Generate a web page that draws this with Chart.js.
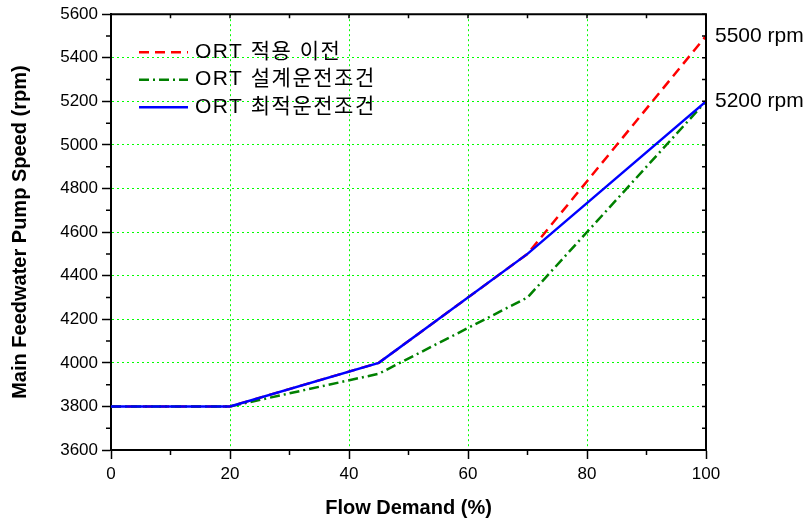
<!DOCTYPE html>
<html>
<head>
<meta charset="utf-8">
<script src="https://cdn.jsdelivr.net/npm/chart.js@4.4.1/dist/chart.umd.min.js"></script>
<style>
  body { margin: 0; background: #fff; }
  #wrap { width: 812px; height: 522px; }
</style>
</head>
<body>
<div id="wrap"><canvas id="pumpChart" width="812" height="522"></canvas></div>
<script>
// data
const flowDemand = [0, 20, 45, 70, 100];
const speedBefore = [3800, 3800, 4000, 4500, 5500];
const speedDesign = [3800, 3800, 3950, 4300, 5200];
const speedOptimal = [3800, 3800, 4000, 4500, 5200];
const seriesLabels = ['ORT 적용 이전', 'ORT 설계운전조건', 'ORT 최적운전조건'];
const xTicks = [0, 20, 40, 60, 80, 100];
const yTicks = [3600, 3800, 4000, 4200, 4400, 4600, 4800, 5000, 5200, 5400, 5600];
const xMinor = [10, 30, 50, 70, 90];
const yMinor = [3700, 3900, 4100, 4300, 4500, 4700, 4900, 5100, 5300, 5500];

const LATIN = '"Liberation Sans", Arial, "Noto Sans CJK KR", sans-serif';
Chart.defaults.font.family = LATIN;
Chart.defaults.color = '#000';

function toPoints(ys) {
  return flowDemand.map((x, i) => ({ x: x, y: ys[i] }));
}

const series = [
  { label: seriesLabels[0], data: speedBefore, color: '#ff0000', dash: [10, 6], order: 2 },
  { label: seriesLabels[1], data: speedDesign, color: '#008000', dash: [10, 4, 2, 4], order: 1 },
  { label: seriesLabels[2], data: speedOptimal, color: '#0000ff', dash: [], order: 0 }
];

// box, minor ticks, legend and end labels
const extras = {
  id: 'extras',
  afterDraw(chart) {
    const { ctx, chartArea: a, scales } = chart;
    const xs = scales.x, ys = scales.y;
    ctx.save();
    ctx.strokeStyle = '#000';
    ctx.lineWidth = 2;
    ctx.beginPath();
    ctx.moveTo(a.left, a.top); ctx.lineTo(a.right, a.top); ctx.lineTo(a.right, a.bottom);
    ctx.stroke();

    ctx.lineWidth = 1.5;
    ctx.beginPath();
    xMinor.forEach(v => {
      const px = xs.getPixelForValue(v);
      ctx.moveTo(px, a.bottom); ctx.lineTo(px, a.bottom + 5);
    });
    yMinor.forEach(v => {
      const py = ys.getPixelForValue(v);
      ctx.moveTo(a.left, py); ctx.lineTo(a.left - 5, py);
    });
    xMinor.concat(xTicks).forEach(v => {
      const px = xs.getPixelForValue(v);
      ctx.moveTo(px, a.top); ctx.lineTo(px, a.top + 4);
    });
    yMinor.concat(yTicks).forEach(v => {
      const py = ys.getPixelForValue(v);
      ctx.moveTo(a.right, py); ctx.lineTo(a.right - 4, py);
    });
    ctx.stroke();

    // legend
    ctx.textBaseline = 'middle';
    ctx.textAlign = 'left';
    ctx.font = '21px ' + LATIN;
    series.forEach((s, i) => {
      const y = a.top + 38 + i * 27.5;
      ctx.strokeStyle = s.color;
      ctx.lineWidth = 2.5;
      ctx.setLineDash(s.dash);
      ctx.beginPath();
      ctx.moveTo(a.left + 28, y); ctx.lineTo(a.left + 77, y);
      ctx.stroke();
      ctx.setLineDash([]);
      ctx.fillStyle = '#000';
      ctx.letterSpacing = '1.5px';
      ctx.fillText(s.label, a.left + 84, y);
      ctx.letterSpacing = '0px';
    });

    // end values
    [speedBefore, speedOptimal].forEach(arr => {
      const v = arr[arr.length - 1];
      ctx.fillText(v + ' rpm', a.right + 9, ys.getPixelForValue(v));
    });
    ctx.restore();
  }
};

const gridStyle = {
  color: '#00ff00',
  lineWidth: 1,
  tickColor: '#000',
  tickLength: 9,
  tickWidth: 1.5,
  tickBorderDash: []
};

new Chart(document.getElementById('pumpChart').getContext('2d'), {
  type: 'line',
  data: {
    datasets: series.map(s => ({
      label: s.label,
      data: toPoints(s.data),
      borderColor: s.color,
      backgroundColor: s.color,
      borderDash: s.dash,
      borderWidth: 2.5,
      pointRadius: 0,
      tension: 0,
      fill: false,
      order: s.order
    }))
  },
  options: {
    responsive: false,
    animation: false,
    layout: { padding: { top: 14, right: 106, left: 0, bottom: 0 } },
    plugins: {
      legend: { display: false },
      tooltip: { enabled: false }
    },
    scales: {
      x: {
        type: 'linear',
        min: 0,
        max: 100,
        afterBuildTicks: s => { s.ticks = xTicks.map(v => ({ value: v })); },
        afterFit: s => { s.height = 72; },
        grid: gridStyle,
        border: { color: '#000', width: 2, dash: [2, 3] },
        ticks: { font: { size: 17 }, padding: 5, maxRotation: 0, callback: v => String(v) },
        title: {
          display: true,
          text: 'Flow Demand (%)',
          font: { size: 20, weight: 'bold' },
          padding: { top: 0, bottom: 2 }
        }
      },
      y: {
        type: 'linear',
        min: 3600,
        max: 5600,
        afterBuildTicks: s => { s.ticks = yTicks.map(v => ({ value: v })); },
        afterFit: s => { s.width = 111; },
        grid: gridStyle,
        border: { color: '#000', width: 2, dash: [2, 3] },
        ticks: { font: { size: 17 }, padding: 4, callback: v => String(v) },
        title: {
          display: true,
          text: 'Main Feedwater Pump Speed (rpm)',
          font: { size: 20, weight: 'bold' },
          padding: { top: 8, bottom: 0 }
        }
      }
    }
  },
  plugins: [extras]
});
</script>
</body>
</html>
